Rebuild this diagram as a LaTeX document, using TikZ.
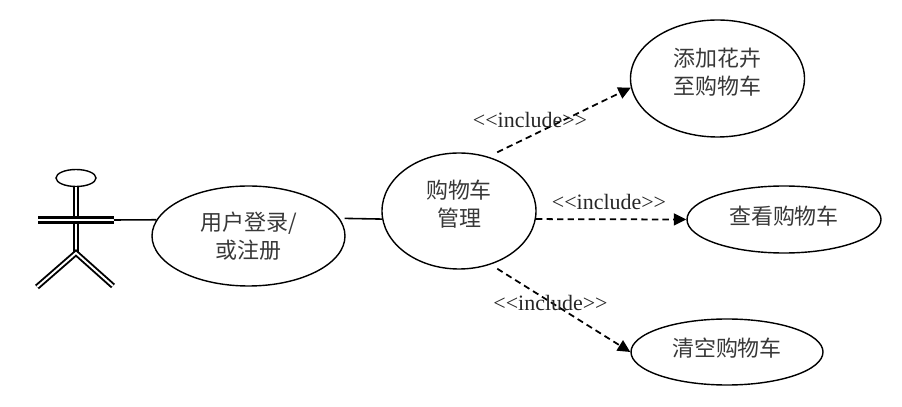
\documentclass[tikz,border=0pt]{standalone}
\usepackage{fontspec}
\setmainfont{Liberation Serif}
\newfontfamily\cjk{Noto Sans CJK SC}
\usetikzlibrary{arrows.meta,shapes.geometric}
\tikzset{
  usecase/.style={draw, ellipse, line width=0.8pt, inner sep=0pt, align=center, text=black!78, font=\cjk\fontsize{12.5}{16}\selectfont},
  stickline/.style={double, line width=1.1pt, double distance=1.1pt},
  armline/.style={double, line width=1.7pt, double distance=0.7pt},
  assoc/.style={line width=0.9pt},
  includeline/.style={dash pattern=on 3.6pt off 2.4pt, line width=1pt, -{Triangle[length=0.25cm,width=0.24cm]}},
  includetext/.style={font=\fontsize{12.5}{15}\selectfont, inner sep=0pt, text=black!85}
}
\begin{document}
\begin{tikzpicture}
  \useasboundingbox (0,0) rectangle (18.04,8.14);
  % actor
  \node[draw, ellipse, line width=0.8pt, minimum width=0.8cm, minimum height=0.34cm, inner sep=0pt] (head) at (1.52,4.58) {};
  \coordinate (hip) at (1.52,3.08);
  \coordinate (handL) at (0.76,3.74);
  \coordinate (handR) at (2.28,3.74);
  \coordinate (footL) at (0.74,2.40);
  \coordinate (footR) at (2.26,2.42);
  \draw[stickline] (head.south) -- (hip);
  \draw[stickline] (footL) -- (hip) -- (footR);
  \draw[armline] (handL) -- (handR);
  % use cases
  \node[usecase, minimum width=3.86cm, minimum height=2.00cm] (login) at (4.97,3.42) {用户登录/\\或注册};
  \node[usecase, minimum width=3.08cm, minimum height=2.32cm, text depth=8.5pt] (cart) at (9.18,3.92) {购物车\\管理};
  \node[usecase, minimum width=3.48cm, minimum height=2.34cm, text depth=8.5pt] (add) at (14.35,6.57) {添加花卉\\至购物车};
  \node[usecase, minimum width=3.88cm, minimum height=1.34cm, text depth=5pt] (view) at (15.68,3.75) {查看购物车};
  \node[usecase, minimum width=3.84cm, minimum height=1.32cm, text depth=5pt] (clear) at (14.54,1.10) {清空购物车};
  % connectors
  \draw[assoc] (handR) -- (login.170);
  \draw[assoc, shorten <=0.1cm] (login.11) -- (cart.186);
  \draw[includeline] ([shift={(0.08,0.12)}]cart.57) -- (add.186);
  \draw[includeline] (cart.-6) -- (view.west);
  \draw[includeline] ([shift={(0.08,-0.10)}]cart.-57) -- (clear.west);
  % labels
  \node[includetext] (includeAdd) at (10.60,5.74) {<{}<include>{}>};
  \node[includetext] (includeView) at (12.18,4.10) {<{}<include>{}>};
  \node[includetext] (includeClear) at (11.01,2.08) {<{}<include>{}>};
\end{tikzpicture}
\end{document}
